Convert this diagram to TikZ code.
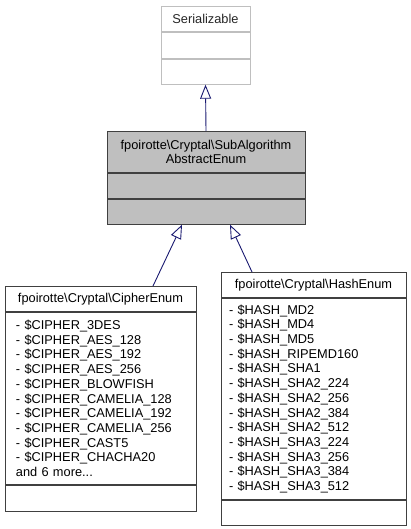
\documentclass[tikz,border=0pt]{standalone}
\usepackage{fontspec}
\setmainfont{Liberation Sans}
\usepackage{tikz}
\usetikzlibrary{arrows.meta, positioning}
\definecolor{edgeblue}{RGB}{25,25,112}
\definecolor{boxgrey}{RGB}{191,191,191}

\begin{document}
\begin{tikzpicture}[
  x=1pt, y=-1pt,
  font=\fontsize{12.8}{14.7}\selectfont,
  cls/.style={rectangle, draw=black!75, line width=0.9pt, fill=white,
              inner sep=0pt, text=black},
  ghost/.style={cls, draw=boxgrey, text=black!85},
  cur/.style={cls, fill=boxgrey},
  lst/.style={cls, align=left, anchor=north, inner ysep=5pt},
  inh/.style={{Triangle[open, length=14pt, width=11pt, fill=white]}-,
              draw=edgeblue, line width=0.9pt}
]
\useasboundingbox (0,0) rectangle (410,529);

% ---------------------------------------------- top: the interface
\node[ghost, minimum width=89pt, minimum height=25pt, anchor=north] (serT) at (205.5,6) {Serializable};
\node[ghost, minimum width=89pt, minimum height=26pt, anchor=north] (serA) at (serT.south) {};
\node[ghost, minimum width=89pt, minimum height=25pt, anchor=north] (serO) at (serA.south) {};

% ---------------------------------------------- middle: the abstract enum
\node[cur, minimum width=198pt, minimum height=41pt, anchor=north, align=center] (subT) at (206,131)
  {fpoirotte\textbackslash Cryptal\textbackslash SubAlgorithm\\AbstractEnum};
\node[cur, minimum width=198pt, minimum height=25pt, anchor=north] (subA) at (subT.south) {};
\node[cur, minimum width=198pt, minimum height=25pt, anchor=north] (subO) at (subA.south) {};

% ---------------------------------------------- bottom left: ciphers
\node[cls, minimum width=191pt, minimum height=25pt, anchor=north] (cipT) at (100.5,286)
  {fpoirotte\textbackslash Cryptal\textbackslash CipherEnum};
\node[lst, text width=169pt, inner xsep=11pt, minimum height=172pt] (cipA) at (cipT.south)
  {- \$CIPHER\_3DES\\
   - \$CIPHER\_AES\_128\\
   - \$CIPHER\_AES\_192\\
   - \$CIPHER\_AES\_256\\
   - \$CIPHER\_BLOWFISH\\
   - \$CIPHER\_CAMELIA\_128\\
   - \$CIPHER\_CAMELIA\_192\\
   - \$CIPHER\_CAMELIA\_256\\
   - \$CIPHER\_CAST5\\
   - \$CIPHER\_CHACHA20\\
   and 6 more...};
\node[cls, minimum width=191pt, minimum height=26pt, anchor=north] (cipO) at (cipA.south) {};

% ---------------------------------------------- bottom right: hashes
\node[cls, minimum width=185pt, minimum height=25pt, anchor=north] (hashT) at (313.5,272)
  {fpoirotte\textbackslash Cryptal\textbackslash HashEnum};
\node[lst, text width=169pt, inner xsep=8pt, minimum height=201pt] (hashA) at (hashT.south)
  {- \$HASH\_MD2\\
   - \$HASH\_MD4\\
   - \$HASH\_MD5\\
   - \$HASH\_RIPEMD160\\
   - \$HASH\_SHA1\\
   - \$HASH\_SHA2\_224\\
   - \$HASH\_SHA2\_256\\
   - \$HASH\_SHA2\_384\\
   - \$HASH\_SHA2\_512\\
   - \$HASH\_SHA3\_224\\
   - \$HASH\_SHA3\_256\\
   - \$HASH\_SHA3\_384\\
   - \$HASH\_SHA3\_512};
\node[cls, minimum width=185pt, minimum height=25pt, anchor=north] (hashO) at (hashA.south) {};

% ---------------------------------------------- inheritance
\draw[inh] (serO.south) -- (subT.north);
\draw[inh] ([xshift=-24pt]subO.south) -- ([xshift=52.5pt]cipT.north);
\draw[inh] ([xshift=24pt]subO.south) -- ([xshift=-61.5pt]hashT.north);

\end{tikzpicture}
\end{document}
